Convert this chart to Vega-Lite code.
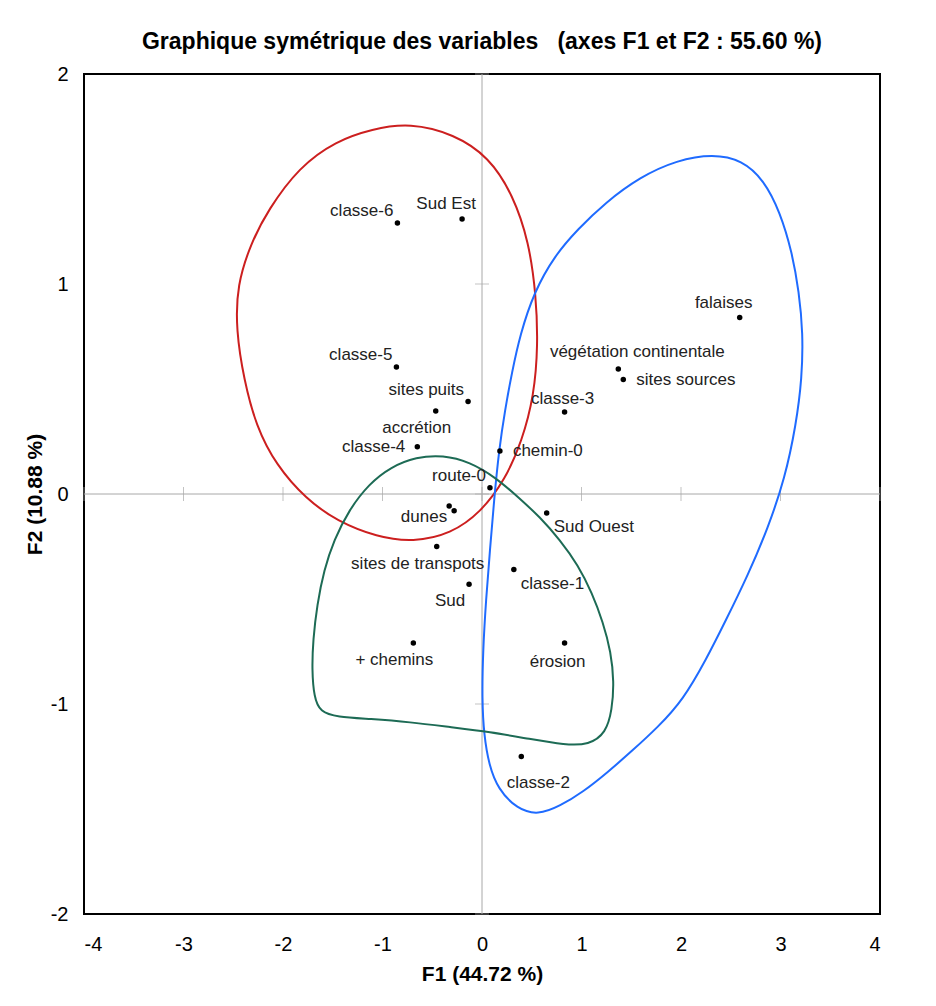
{
  "$schema": "https://vega.github.io/schema/vega-lite/v6.json",
  "width": 796,
  "height": 840,
  "autosize": {"type": "none"},
  "padding": {"left": 84, "top": 74, "right": 56, "bottom": 92},
  "background": "white",
  "title": {
    "text": "Graphique symétrique des variables\u00a0\u00a0\u00a0(axes F1 et F2 : 55.60 %)",
    "font": "Liberation Sans",
    "fontSize": 23,
    "fontWeight": "bold",
    "color": "black",
    "anchor": "middle",
    "offset": 10
  },
  "config": {
    "view": {"stroke": "black", "strokeWidth": 2},
    "axis": {
      "grid": false,
      "ticks": false,
      "domain": false,
      "labelFont": "Liberation Sans",
      "labelFontSize": 20,
      "labelColor": "black",
      "labelExpr": "'' + datum.value",
      "titleFont": "Liberation Sans",
      "titleFontSize": 21,
      "titleFontWeight": "bold",
      "titleColor": "black"
    },
    "axisX": {"labelPadding": 20, "titlePadding": 9},
    "axisY": {"labelPadding": 16, "titlePadding": 5}
  },
  "datasets": {
    "cross": [
      {"F1": 0, "F2": -2, "F1b": 0, "F2b": 2},
      {"F1": -4, "F2": 0, "F1b": 4, "F2b": 0}
    ],
    "xticks": [
      {"F1": -4, "F2": 0}, {"F1": -3, "F2": 0}, {"F1": -2, "F2": 0}, {"F1": -1, "F2": 0},
      {"F1": 0, "F2": 0}, {"F1": 1, "F2": 0}, {"F1": 2, "F2": 0}, {"F1": 3, "F2": 0}, {"F1": 4, "F2": 0}
    ],
    "yticks": [
      {"F1": 0, "F2": -2}, {"F1": 0, "F2": -1}, {"F1": 0, "F2": 0}, {"F1": 0, "F2": 1}, {"F1": 0, "F2": 2}
    ],
    "curves": [
      {"group": "rouge", "i": 1, "F1": -0.724, "F2": 1.767},
      {"group": "rouge", "i": 2, "F1": -0.281, "F2": 1.714},
      {"group": "rouge", "i": 3, "F1": 0.070, "F2": 1.605},
      {"group": "rouge", "i": 4, "F1": 0.312, "F2": 1.424},
      {"group": "rouge", "i": 5, "F1": 0.472, "F2": 1.200},
      {"group": "rouge", "i": 6, "F1": 0.543, "F2": 0.948},
      {"group": "rouge", "i": 7, "F1": 0.563, "F2": 0.710},
      {"group": "rouge", "i": 8, "F1": 0.523, "F2": 0.467},
      {"group": "rouge", "i": 9, "F1": 0.402, "F2": 0.252},
      {"group": "rouge", "i": 10, "F1": 0.231, "F2": 0.067},
      {"group": "rouge", "i": 11, "F1": -0.010, "F2": -0.086},
      {"group": "rouge", "i": 12, "F1": -0.312, "F2": -0.190},
      {"group": "rouge", "i": 13, "F1": -0.693, "F2": -0.229},
      {"group": "rouge", "i": 14, "F1": -1.055, "F2": -0.205},
      {"group": "rouge", "i": 15, "F1": -1.457, "F2": -0.129},
      {"group": "rouge", "i": 16, "F1": -1.769, "F2": -0.024},
      {"group": "rouge", "i": 17, "F1": -2.070, "F2": 0.138},
      {"group": "rouge", "i": 18, "F1": -2.271, "F2": 0.324},
      {"group": "rouge", "i": 19, "F1": -2.392, "F2": 0.543},
      {"group": "rouge", "i": 20, "F1": -2.472, "F2": 0.781},
      {"group": "rouge", "i": 21, "F1": -2.462, "F2": 0.995},
      {"group": "rouge", "i": 22, "F1": -2.322, "F2": 1.195},
      {"group": "rouge", "i": 23, "F1": -2.151, "F2": 1.352},
      {"group": "rouge", "i": 24, "F1": -1.839, "F2": 1.557},
      {"group": "rouge", "i": 25, "F1": -1.467, "F2": 1.681},
      {"group": "rouge", "i": 26, "F1": -1.106, "F2": 1.738},
      {"group": "bleu", "i": 1, "F1": 2.322, "F2": 1.619},
      {"group": "bleu", "i": 2, "F1": 2.613, "F2": 1.590},
      {"group": "bleu", "i": 3, "F1": 2.834, "F2": 1.495},
      {"group": "bleu", "i": 4, "F1": 2.995, "F2": 1.343},
      {"group": "bleu", "i": 5, "F1": 3.116, "F2": 1.152},
      {"group": "bleu", "i": 6, "F1": 3.186, "F2": 0.962},
      {"group": "bleu", "i": 7, "F1": 3.226, "F2": 0.767},
      {"group": "bleu", "i": 8, "F1": 3.216, "F2": 0.552},
      {"group": "bleu", "i": 9, "F1": 3.156, "F2": 0.329},
      {"group": "bleu", "i": 10, "F1": 3.045, "F2": 0.076},
      {"group": "bleu", "i": 11, "F1": 2.874, "F2": -0.162},
      {"group": "bleu", "i": 12, "F1": 2.673, "F2": -0.386},
      {"group": "bleu", "i": 13, "F1": 2.442, "F2": -0.610},
      {"group": "bleu", "i": 14, "F1": 2.251, "F2": -0.790},
      {"group": "bleu", "i": 15, "F1": 2.020, "F2": -0.981},
      {"group": "bleu", "i": 16, "F1": 1.769, "F2": -1.110},
      {"group": "bleu", "i": 17, "F1": 1.518, "F2": -1.219},
      {"group": "bleu", "i": 18, "F1": 1.266, "F2": -1.324},
      {"group": "bleu", "i": 19, "F1": 1.015, "F2": -1.419},
      {"group": "bleu", "i": 20, "F1": 0.784, "F2": -1.486},
      {"group": "bleu", "i": 21, "F1": 0.563, "F2": -1.529},
      {"group": "bleu", "i": 22, "F1": 0.352, "F2": -1.500},
      {"group": "bleu", "i": 23, "F1": 0.161, "F2": -1.405},
      {"group": "bleu", "i": 24, "F1": 0.070, "F2": -1.290},
      {"group": "bleu", "i": 25, "F1": 0.020, "F2": -1.148},
      {"group": "bleu", "i": 26, "F1": 0.000, "F2": -0.981},
      {"group": "bleu", "i": 27, "F1": 0.010, "F2": -0.743},
      {"group": "bleu", "i": 28, "F1": 0.040, "F2": -0.505},
      {"group": "bleu", "i": 29, "F1": 0.080, "F2": -0.267},
      {"group": "bleu", "i": 30, "F1": 0.121, "F2": -0.029},
      {"group": "bleu", "i": 31, "F1": 0.171, "F2": 0.210},
      {"group": "bleu", "i": 32, "F1": 0.231, "F2": 0.400},
      {"group": "bleu", "i": 33, "F1": 0.302, "F2": 0.581},
      {"group": "bleu", "i": 34, "F1": 0.382, "F2": 0.757},
      {"group": "bleu", "i": 35, "F1": 0.523, "F2": 0.962},
      {"group": "bleu", "i": 36, "F1": 0.734, "F2": 1.138},
      {"group": "bleu", "i": 37, "F1": 0.965, "F2": 1.262},
      {"group": "bleu", "i": 38, "F1": 1.236, "F2": 1.386},
      {"group": "bleu", "i": 39, "F1": 1.588, "F2": 1.510},
      {"group": "bleu", "i": 40, "F1": 1.960, "F2": 1.590},
      {"group": "vert", "i": 1, "F1": -0.392, "F2": 0.186},
      {"group": "vert", "i": 2, "F1": -0.121, "F2": 0.152},
      {"group": "vert", "i": 3, "F1": 0.131, "F2": 0.081},
      {"group": "vert", "i": 4, "F1": 0.362, "F2": -0.014},
      {"group": "vert", "i": 5, "F1": 0.583, "F2": -0.110},
      {"group": "vert", "i": 6, "F1": 0.784, "F2": -0.219},
      {"group": "vert", "i": 7, "F1": 0.965, "F2": -0.338},
      {"group": "vert", "i": 8, "F1": 1.106, "F2": -0.471},
      {"group": "vert", "i": 9, "F1": 1.216, "F2": -0.610},
      {"group": "vert", "i": 10, "F1": 1.296, "F2": -0.752},
      {"group": "vert", "i": 11, "F1": 1.327, "F2": -0.895},
      {"group": "vert", "i": 12, "F1": 1.307, "F2": -1.029},
      {"group": "vert", "i": 13, "F1": 1.246, "F2": -1.138},
      {"group": "vert", "i": 14, "F1": 1.075, "F2": -1.195},
      {"group": "vert", "i": 15, "F1": 0.834, "F2": -1.195},
      {"group": "vert", "i": 16, "F1": 0.482, "F2": -1.167},
      {"group": "vert", "i": 17, "F1": 0.080, "F2": -1.133},
      {"group": "vert", "i": 18, "F1": -0.322, "F2": -1.110},
      {"group": "vert", "i": 19, "F1": -0.724, "F2": -1.086},
      {"group": "vert", "i": 20, "F1": -1.126, "F2": -1.071},
      {"group": "vert", "i": 21, "F1": -1.457, "F2": -1.062},
      {"group": "vert", "i": 22, "F1": -1.628, "F2": -1.038},
      {"group": "vert", "i": 23, "F1": -1.688, "F2": -0.967},
      {"group": "vert", "i": 24, "F1": -1.709, "F2": -0.838},
      {"group": "vert", "i": 25, "F1": -1.698, "F2": -0.695},
      {"group": "vert", "i": 26, "F1": -1.658, "F2": -0.529},
      {"group": "vert", "i": 27, "F1": -1.588, "F2": -0.362},
      {"group": "vert", "i": 28, "F1": -1.487, "F2": -0.219},
      {"group": "vert", "i": 29, "F1": -1.337, "F2": -0.076},
      {"group": "vert", "i": 30, "F1": -1.136, "F2": 0.048},
      {"group": "vert", "i": 31, "F1": -0.915, "F2": 0.129},
      {"group": "vert", "i": 32, "F1": -0.663, "F2": 0.176}
    ],
    "points": [
      {"name": "classe-6", "F1": -0.85, "F2": 1.29, "pos": "upleft"},
      {"name": "Sud Est", "F1": -0.20, "F2": 1.31, "pos": "aboveleft"},
      {"name": "classe-5", "F1": -0.86, "F2": 0.605, "pos": "upleft"},
      {"name": "sites puits", "F1": -0.14, "F2": 0.44, "pos": "upleft"},
      {"name": "accrétion", "F1": -0.465, "F2": 0.395, "pos": "belowleft"},
      {"name": "classe-4", "F1": -0.65, "F2": 0.225, "pos": "left"},
      {"name": "chemin-0", "F1": 0.18, "F2": 0.205, "pos": "right"},
      {"name": "route-0", "F1": 0.08, "F2": 0.03, "pos": "upleft"},
      {"name": "dunes", "F1": -0.33, "F2": -0.057, "pos": "downleft"},
      {"name": "", "F1": -0.28, "F2": -0.08, "pos": "none"},
      {"name": "Sud Ouest", "F1": 0.65, "F2": -0.09, "pos": "downright"},
      {"name": "sites de transpots", "F1": -0.455, "F2": -0.25, "pos": "belowleft"},
      {"name": "classe-1", "F1": 0.32, "F2": -0.36, "pos": "downright"},
      {"name": "Sud", "F1": -0.13, "F2": -0.43, "pos": "belowleft"},
      {"name": "+ chemins", "F1": -0.69, "F2": -0.71, "pos": "belowleft"},
      {"name": "érosion", "F1": 0.83, "F2": -0.71, "pos": "below"},
      {"name": "falaises", "F1": 2.59, "F2": 0.84, "pos": "aboveleft"},
      {"name": "végétation continentale", "F1": 1.37, "F2": 0.595, "pos": "aboveright"},
      {"name": "sites sources", "F1": 1.42, "F2": 0.545, "pos": "right"},
      {"name": "classe-3", "F1": 0.83, "F2": 0.39, "pos": "above"},
      {"name": "classe-2", "F1": 0.395, "F2": -1.25, "pos": "belowright"}
    ]
  },
  "encoding": {
    "x": {
      "field": "F1",
      "type": "quantitative",
      "title": "F1 (44.72 %)",
      "scale": {"domain": [-4, 4], "nice": false, "zero": false},
      "axis": {"values": [-4, -3, -2, -1, 0, 1, 2, 3, 4]}
    },
    "y": {
      "field": "F2",
      "type": "quantitative",
      "title": "F2 (10.88 %)",
      "scale": {"domain": [-2, 2], "nice": false, "zero": false},
      "axis": {"values": [-2, -1, 0, 1, 2]}
    }
  },
  "layer": [
    {
      "data": {"name": "cross"},
      "mark": {"type": "rule", "color": "#a8a8a8", "strokeWidth": 1},
      "encoding": {"x2": {"field": "F1b"}, "y2": {"field": "F2b"}}
    },
    {
      "data": {"name": "xticks"},
      "mark": {"type": "tick", "orient": "vertical", "color": "#a8a8a8", "size": 14, "thickness": 1}
    },
    {
      "data": {"name": "yticks"},
      "mark": {"type": "tick", "orient": "horizontal", "color": "#a8a8a8", "size": 14, "thickness": 1}
    },
    {
      "data": {"name": "curves"},
      "mark": {"type": "line", "interpolate": "basis-closed", "strokeWidth": 2},
      "encoding": {
        "order": {"field": "i", "type": "quantitative"},
        "color": {
          "field": "group",
          "type": "nominal",
          "scale": {"domain": ["rouge", "bleu", "vert"], "range": ["#cc1f1f", "#1f6bff", "#1d6b55"]},
          "legend": null
        }
      }
    },
    {
      "data": {"name": "points"},
      "mark": {"type": "circle", "size": 30, "color": "black", "opacity": 1}
    },
    {
      "data": {"name": "points"},
      "transform": [{"filter": "datum.pos == 'upleft'"}],
      "mark": {"type": "text", "align": "right", "baseline": "middle", "dx": -4, "dy": -12, "font": "Liberation Sans", "fontSize": 17, "color": "#222"},
      "encoding": {"text": {"field": "name"}}
    },
    {
      "data": {"name": "points"},
      "transform": [{"filter": "datum.pos == 'left'"}],
      "mark": {"type": "text", "align": "right", "baseline": "middle", "dx": -12, "dy": 0, "font": "Liberation Sans", "fontSize": 17, "color": "#222"},
      "encoding": {"text": {"field": "name"}}
    },
    {
      "data": {"name": "points"},
      "transform": [{"filter": "datum.pos == 'right'"}],
      "mark": {"type": "text", "align": "left", "baseline": "middle", "dx": 13, "dy": 0, "font": "Liberation Sans", "fontSize": 17, "color": "#222"},
      "encoding": {"text": {"field": "name"}}
    },
    {
      "data": {"name": "points"},
      "transform": [{"filter": "datum.pos == 'downright'"}],
      "mark": {"type": "text", "align": "left", "baseline": "middle", "dx": 7, "dy": 14, "font": "Liberation Sans", "fontSize": 17, "color": "#222"},
      "encoding": {"text": {"field": "name"}}
    },
    {
      "data": {"name": "points"},
      "transform": [{"filter": "datum.pos == 'downleft'"}],
      "mark": {"type": "text", "align": "right", "baseline": "middle", "dx": -2, "dy": 11, "font": "Liberation Sans", "fontSize": 17, "color": "#222"},
      "encoding": {"text": {"field": "name"}}
    },
    {
      "data": {"name": "points"},
      "transform": [{"filter": "datum.pos == 'aboveleft'"}],
      "mark": {"type": "text", "align": "center", "baseline": "middle", "dx": -16, "dy": -15, "font": "Liberation Sans", "fontSize": 17, "color": "#222"},
      "encoding": {"text": {"field": "name"}}
    },
    {
      "data": {"name": "points"},
      "transform": [{"filter": "datum.pos == 'above'"}],
      "mark": {"type": "text", "align": "center", "baseline": "middle", "dx": -2, "dy": -13, "font": "Liberation Sans", "fontSize": 17, "color": "#222"},
      "encoding": {"text": {"field": "name"}}
    },
    {
      "data": {"name": "points"},
      "transform": [{"filter": "datum.pos == 'aboveright'"}],
      "mark": {"type": "text", "align": "center", "baseline": "middle", "dx": 19, "dy": -17, "font": "Liberation Sans", "fontSize": 17, "color": "#222"},
      "encoding": {"text": {"field": "name"}}
    },
    {
      "data": {"name": "points"},
      "transform": [{"filter": "datum.pos == 'belowleft'"}],
      "mark": {"type": "text", "align": "center", "baseline": "middle", "dx": -19, "dy": 17, "font": "Liberation Sans", "fontSize": 17, "color": "#222"},
      "encoding": {"text": {"field": "name"}}
    },
    {
      "data": {"name": "points"},
      "transform": [{"filter": "datum.pos == 'below'"}],
      "mark": {"type": "text", "align": "center", "baseline": "middle", "dx": -7, "dy": 19, "font": "Liberation Sans", "fontSize": 17, "color": "#222"},
      "encoding": {"text": {"field": "name"}}
    },
    {
      "data": {"name": "points"},
      "transform": [{"filter": "datum.pos == 'belowright'"}],
      "mark": {"type": "text", "align": "center", "baseline": "middle", "dx": 17, "dy": 26, "font": "Liberation Sans", "fontSize": 17, "color": "#222"},
      "encoding": {"text": {"field": "name"}}
    }
  ]
}
